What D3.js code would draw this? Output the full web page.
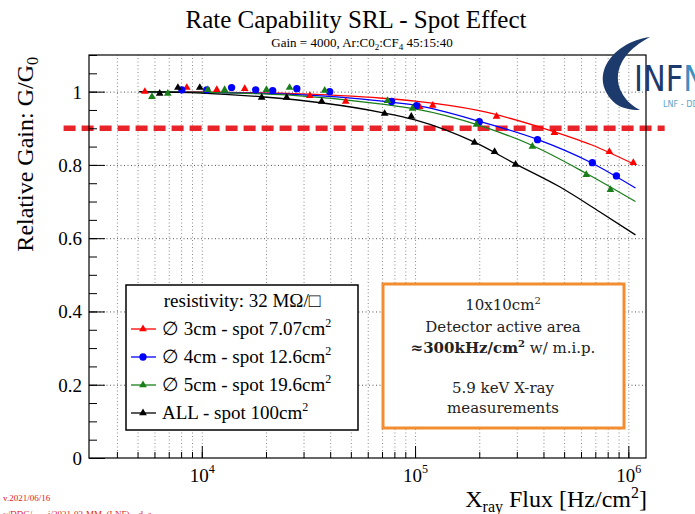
<!DOCTYPE html>
<html>
<head>
<meta charset="utf-8">
<script src="https://cdn.jsdelivr.net/npm/d3@7"></script>
<style>
  body { margin: 0; background: #fff; }
  svg { display: block; font-family: "Liberation Serif", "Times New Roman", serif; }
</style>
</head>
<body>
<div id="chart"></div>
<script>
// ── Data ──────────────────────────────────────────
// Ø 3cm - spot 7.07cm2 (red triangles)
const spot3X = [5410, 8510, 11760, 15900, 32100, 47300, 105000, 121000, 241000, 450000, 815000, 1055000];
const spot3Y = [1.000, 1.011, 1.005, 1.008, 0.989, 0.973, 0.959, 0.962, 0.932, 0.888, 0.836, 0.806];
// Ø 4cm - spot 12.6cm2 (blue circles)
const spot4X = [8060, 10550, 13800, 17900, 21500, 27900, 39800, 77600, 101600, 200000, 375000, 678000, 879000];
const spot4Y = [1.005, 1.005, 1.011, 1.005, 1.003, 1.008, 1.000, 0.973, 0.962, 0.918, 0.869, 0.806, 0.770];
// Ø 5cm - spot 19.6cm2 (green triangles)
const spot5X = [5840, 6930, 10670, 12800, 20100, 25800, 37700, 74300, 97300, 194000, 355000, 635000, 824000];
const spot5Y = [0.986, 0.995, 1.005, 1.005, 1.005, 1.011, 1.003, 0.975, 0.954, 0.910, 0.850, 0.773, 0.732];
// ALL - spot 100cm2 (black triangles)
const allX = [6350, 7730, 9790, 19100, 25000, 36500, 72000, 96000, 190000, 236000, 296000];
const allY = [0.995, 1.011, 1.011, 0.984, 0.984, 0.973, 0.940, 0.932, 0.861, 0.836, 0.801];

// fitted curves
const fit3 = [[5100,1.000],[1e4,0.999],[2.5e4,0.995],[7e4,0.982],[1e5,0.974],[2e5,0.948],[4e5,0.900],[6.7e5,0.855],[1.08e6,0.800]];
const fit4 = [[5100,1.000],[1e4,0.998],[2.5e4,0.993],[7e4,0.974],[1e5,0.963],[2e5,0.919],[3.77e5,0.869],[6.6e5,0.808],[1.08e6,0.737]];
const fit5 = [[5100,1.000],[1e4,0.998],[2.5e4,0.991],[7e4,0.966],[1e5,0.953],[2e5,0.908],[3.55e5,0.853],[6.3e5,0.778],[1.08e6,0.700]];
const fitAll = [[5100,1.000],[1e4,0.996],[1.9e4,0.986],[3.7e4,0.969],[7e4,0.943],[1e5,0.923],[1.9e5,0.862],[2.95e5,0.803],[4.74e5,0.741],[7.3e5,0.673],[1.08e6,0.609]];

// threshold line (G/G0 = 0.9), x extent as drawn
const thresholdGain = 0.9;
const thresholdFrom = 2250, thresholdTo = 1.48e6;

const yTickValues = [0, 0.2, 0.4, 0.6, 0.8, 1];
const yTickLabels = ["0", "0.2", "0.4", "0.6", "0.8", "1"];
const xMajorTicks = [1e4, 1e5, 1e6];
const xMajorExp   = ["4", "5", "6"];

// ── Layout ───────────────────────────────────────
const totalW = 695, totalH = 514;
const margin = { top: 55, right: 49, bottom: 56, left: 89 };
const width  = totalW - margin.left - margin.right;
const height = totalH - margin.top - margin.bottom;

const SERIES = [
  { name: "3", xs: spot3X, ys: spot3Y, fit: fit3, color: "#ff0000", sym: d3.symbolTriangle, size: 26, label: "\u2205 3cm - spot 7.07cm" },
  { name: "4", xs: spot4X, ys: spot4Y, fit: fit4, color: "#0000ff", sym: d3.symbolCircle,   size: 42, label: "\u2205 4cm - spot 12.6cm" },
  { name: "5", xs: spot5X, ys: spot5Y, fit: fit5, color: "#1a7f1a", sym: d3.symbolTriangle, size: 26, label: "\u2205 5cm - spot 19.6cm" },
  { name: "A", xs: allX,   ys: allY,   fit: fitAll, color: "#000000", sym: d3.symbolTriangle, size: 26, label: "ALL - spot 100cm" }
];

const svg = d3.select("#chart").append("svg")
  .attr("width", totalW).attr("height", totalH);

const g = svg.append("g").attr("transform", `translate(${margin.left},${margin.top})`);

const x = d3.scaleLog().domain([2960, 1.21e6]).range([0, width]);
const y = d3.scaleLinear().domain([0, 1.1]).range([height, 0]);

const minorX = x.ticks().filter(v => v > 3500);
const minorY = d3.range(0, 1.1001, 0.05);

// ── Grid ─────────────────────────────────────────
g.append("g").attr("transform", `translate(0,${height})`)
  .call(d3.axisBottom(x).tickValues(minorX).tickSize(-height).tickFormat(""))
  .call(a => {
    a.select(".domain").remove();
    a.selectAll(".tick line").attr("stroke", "#8a8a8a").attr("stroke-dasharray", "1,2.5");
  });
g.append("g")
  .call(d3.axisLeft(y).tickValues(yTickValues.filter(v => v > 0)).tickSize(-width).tickFormat(""))
  .call(a => {
    a.select(".domain").remove();
    a.selectAll(".tick line").attr("stroke", "#555").attr("stroke-dasharray", "1,2.5");
  });

// ── Threshold line ───────────────────────────────
g.append("line")
  .attr("x1", x(thresholdFrom)).attr("x2", x(thresholdTo))
  .attr("y1", y(thresholdGain)).attr("y2", y(thresholdGain))
  .attr("stroke", "#e8242a").attr("stroke-width", 5.5)
  .attr("stroke-dasharray", "12,6");

// ── Fits and markers ─────────────────────────────
const line = d3.line().x(d => x(d[0])).y(d => y(d[1])).curve(d3.curveMonotoneX);

SERIES.forEach(s => {
  g.append("path").datum(s.fit)
    .attr("d", line).attr("fill", "none")
    .attr("stroke", s.color).attr("stroke-width", 1.3);
});
SERIES.forEach(s => {
  const pts = s.xs.map((v, i) => [v, s.ys[i]]);
  g.selectAll(null).data(pts).join("path")
    .attr("transform", d => `translate(${x(d[0])},${y(d[1])})`)
    .attr("d", d3.symbol().type(s.sym).size(s.size))
    .attr("fill", s.color);
});

// ── Frame and axes ───────────────────────────────
g.append("rect").attr("width", width).attr("height", height)
  .attr("fill", "none").attr("stroke", "#000").attr("stroke-width", 1.2);

// x ticks (inward)
g.append("g").attr("transform", `translate(0,${height})`)
  .call(d3.axisBottom(x).tickValues(minorX).tickSize(-6).tickFormat(""))
  .call(a => { a.select(".domain").remove(); a.selectAll(".tick line").attr("stroke", "#000"); });
const xAxis = g.append("g").attr("transform", `translate(0,${height})`)
  .call(d3.axisBottom(x).tickValues(xMajorTicks).tickSize(-12).tickPadding(0).tickFormat(""));
xAxis.select(".domain").remove();
xAxis.selectAll(".tick line").attr("stroke", "#000");
xAxis.selectAll(".tick").append("text")
  .attr("y", 24).attr("text-anchor", "middle")
  .attr("fill", "#000").attr("font-size", "19px")
  .attr("font-family", "'Liberation Serif', serif")
  .each(function(d, i) {
    const t = d3.select(this);
    t.append("tspan").text("10");
    t.append("tspan").attr("dy", -9).attr("font-size", "12px").text(xMajorExp[i]);
  });

// y ticks (inward)
g.append("g")
  .call(d3.axisLeft(y).tickValues(minorY).tickSize(-8).tickFormat(""))
  .call(a => { a.select(".domain").remove(); a.selectAll(".tick line").attr("stroke", "#000"); });
const yAxis = g.append("g")
  .call(d3.axisLeft(y).tickValues(yTickValues).tickSize(-16).tickPadding(0)
    .tickFormat((d, i) => yTickLabels[i]));
yAxis.select(".domain").remove();
yAxis.selectAll(".tick line").attr("stroke", "#000");
yAxis.selectAll(".tick text")
  .attr("x", -7).attr("dy", "0.34em")
  .attr("font-size", "19px").attr("font-family", "'Liberation Serif', serif").attr("fill", "#000");

// ── Titles ───────────────────────────────────────
svg.append("text").attr("x", 356).attr("y", 28).attr("text-anchor", "middle")
  .attr("font-size", "25px").attr("fill", "#000")
  .text("Rate Capability SRL - Spot Effect");

const sub = svg.append("text").attr("x", 362).attr("y", 47).attr("text-anchor", "middle")
  .attr("font-size", "13px").attr("fill", "#000");
sub.append("tspan").text("Gain = 4000, Ar:C0");
sub.append("tspan").attr("dy", 3).attr("font-size", "9px").text("2");
sub.append("tspan").attr("dy", -3).text(":CF");
sub.append("tspan").attr("dy", 3).attr("font-size", "9px").text("4");
sub.append("tspan").attr("dy", -3).text(" 45:15:40");

const ylab = svg.append("text")
  .attr("transform", "translate(33,57) rotate(-90)")
  .attr("text-anchor", "end").attr("font-size", "24px").attr("fill", "#000");
ylab.append("tspan").text("Relative Gain: G/G");
ylab.append("tspan").attr("dy", 5).attr("font-size", "16px").text("0");

const xlab = svg.append("text").attr("x", 647).attr("y", 507)
  .attr("text-anchor", "end").attr("font-size", "24px").attr("fill", "#000");
xlab.append("tspan").text("X");
xlab.append("tspan").attr("dy", 5).attr("font-size", "16px").text("ray");
xlab.append("tspan").attr("dy", -5).text(" Flux [Hz/cm");
xlab.append("tspan").attr("dy", -9).attr("font-size", "16px").text("2");
xlab.append("tspan").attr("dy", 9).text("]");

// ── Legend ───────────────────────────────────────
const leg = svg.append("g").attr("transform", "translate(126,285)");
leg.append("rect").attr("width", 232).attr("height", 145)
  .attr("fill", "#fff").attr("stroke", "#000").attr("stroke-width", 1.5);
leg.append("text").attr("x", 116).attr("y", 22).attr("text-anchor", "middle")
  .attr("font-size", "19px").attr("fill", "#000").text("resistivity: 32 M\u03A9/\u25A1");
SERIES.forEach((s, i) => {
  const ry = 50 + i * 28;
  const row = leg.append("g").attr("transform", `translate(0,${ry})`);
  row.append("line").attr("x1", 5).attr("x2", 30).attr("y1", -6).attr("y2", -6)
    .attr("stroke", s.color).attr("stroke-width", 1.3);
  row.append("path").attr("transform", "translate(17,-6)")
    .attr("d", d3.symbol().type(s.sym).size(s.size)).attr("fill", s.color);
  const t = row.append("text").attr("x", 36).attr("y", 0)
    .attr("font-size", "19px").attr("fill", "#000");
  t.append("tspan").text(s.label);
  t.append("tspan").attr("dy", -8).attr("font-size", "12px").text("2");
});

// ── Info box ─────────────────────────────────────
const info = svg.append("g").attr("transform", "translate(383,284)")
  .attr("font-family", "'DejaVu Serif', serif").attr("font-size", "15px").attr("fill", "#222");
info.append("rect").attr("width", 241).attr("height", 144)
  .attr("fill", "#fff").attr("stroke", "#f28e2f").attr("stroke-width", 3);
const cx = 120;
const l1 = info.append("text").attr("x", cx).attr("y", 26).attr("text-anchor", "middle");
l1.append("tspan").text("10x10cm");
l1.append("tspan").attr("dy", -6).attr("font-size", "10px").text("2");
info.append("text").attr("x", cx).attr("y", 48).attr("text-anchor", "middle").text("Detector active area");
const l3 = info.append("text").attr("x", cx).attr("y", 69).attr("text-anchor", "middle");
l3.append("tspan").attr("font-weight", "bold").text("\u2248300kHz/cm");
l3.append("tspan").attr("font-weight", "bold").attr("dy", -6).attr("font-size", "10px").text("2");
l3.append("tspan").attr("dy", 6).text(" w/ m.i.p.");
info.append("text").attr("x", cx).attr("y", 109).attr("text-anchor", "middle").text("5.9 keV X-ray");
info.append("text").attr("x", cx).attr("y", 129).attr("text-anchor", "middle").text("measurements");

// ── INFN logo (cropped at the right edge) ────────
const logo = svg.append("g");
logo.append("path")
  .attr("d", "M650,37 C612,42 586,78 616,104 C622,108 630,110 640,110 C612,95 606,60 650,37 Z")
  .attr("fill", "#1d3a6c");
const lt = logo.append("text").attr("x", 634).attr("y", 91)
  .attr("font-family", "'DejaVu Sans', sans-serif").attr("font-size", "36px")
  .attr("textLength", 72).attr("lengthAdjust", "spacingAndGlyphs");
lt.append("tspan").attr("fill", "#1d3a6c").text("INF");
lt.append("tspan").attr("fill", "#3c8fc0").text("N");
logo.append("text").attr("x", 663).attr("y", 107)
  .attr("font-family", "'DejaVu Sans', sans-serif").attr("font-size", "9px")
  .attr("fill", "#5aa6cc").attr("textLength", 42).attr("lengthAdjust", "spacingAndGlyphs")
  .text("LNF - DDG");

// ── Footer stamps ────────────────────────────────
svg.append("text").attr("x", 3).attr("y", 501)
  .attr("font-size", "9px").attr("fill", "#e02020").text("v.2021/06/16");
svg.append("text").attr("x", 3).attr("y", 517)
  .attr("font-size", "9px").attr("fill", "#e02020").text("~/DDG/.......i/2021-03-MM_(LNF)_..d..a.");
</script>
</body>
</html>
